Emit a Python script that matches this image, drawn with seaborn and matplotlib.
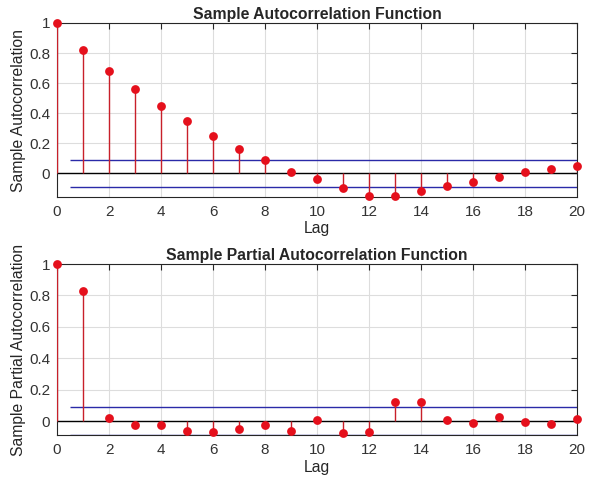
import numpy as np
import pandas as pd
import matplotlib
matplotlib.use("Agg")
import matplotlib.pyplot as plt
import seaborn as sns

lags = list(range(21))
acf_vals = [1.0, 0.82, 0.68, 0.56, 0.45, 0.35, 0.25, 0.16, 0.085, 0.01,
            -0.04, -0.096, -0.153, -0.153, -0.116, -0.082, -0.058, -0.027, 0.007, 0.027, 0.051]
pacf_vals = [1.0, 0.83, 0.02, -0.021, -0.021, -0.059, -0.07, -0.047, -0.025, -0.063,
             0.008, -0.074, -0.07, 0.123, 0.123, 0.008, -0.011, 0.03, -0.002, -0.017, 0.015]
bound = 0.089
xticks = [0, 2, 4, 6, 8, 10, 12, 14, 16, 18, 20]
yticks = [0, 0.2, 0.4, 0.6, 0.8, 1]
ytick_labels = ["0", "0.2", "0.4", "0.6", "0.8", "1"]

sns.set_style("whitegrid")
plt.rcParams['font.family'] = ['Liberation Sans', 'DejaVu Sans']

fig = plt.figure(figsize=(5.96, 4.83), dpi=100)
W, H = 596, 483
ax1 = fig.add_axes([57 / W, 1 - 197 / H, 520 / W, 174 / H])
ax2 = fig.add_axes([57 / W, 1 - 435 / H, 520 / W, 171 / H])

def draw(ax, vals, title, ylabel, ylim, xlabelpad):
    df = pd.DataFrame({"Lag": lags, "val": vals})
    ax.vlines(df["Lag"], 0, df["val"], color="#c8202a", lw=1.0, zorder=3)
    ax.axhline(0, color="black", lw=1.0, zorder=2)
    ax.hlines([bound, -bound], 0.5, 20, color="#2a2aa8", lw=1.0, zorder=2)
    sns.scatterplot(data=df, x="Lag", y="val", ax=ax, color="#e5101c", s=40,
                    edgecolor="#e5101c", linewidth=0, zorder=4, clip_on=False)
    ax.set_xlim(0, 20)
    ax.set_ylim(*ylim)
    ax.set_xticks(xticks)
    ax.set_yticks(yticks)
    ax.set_yticklabels(ytick_labels)
    ax.grid(True, color="#dddddd", lw=0.8)
    for s in ax.spines.values():
        s.set_visible(True)
        s.set_color("#262626")
        s.set_linewidth(0.8)
    ax.tick_params(direction="in", length=4, top=True, right=True, colors="#262626",
                   labelsize=11, labelcolor="#333333", pad=5)
    ax.tick_params(axis="x", pad=6)
    ax.set_title(title, fontsize=11.3, fontweight="bold", pad=3)
    ax.set_xlabel("Lag", fontsize=11.3, labelpad=xlabelpad)
    ax.set_ylabel(ylabel, fontsize=11.3, labelpad=2)

draw(ax1, acf_vals, "Sample Autocorrelation Function", "Sample Autocorrelation", (-0.158, 1), 1)
draw(ax2, pacf_vals, "Sample Partial Autocorrelation Function", "Sample Partial Autocorrelation", (-0.086, 1), 2)

fig.savefig("out.png", dpi=100)
